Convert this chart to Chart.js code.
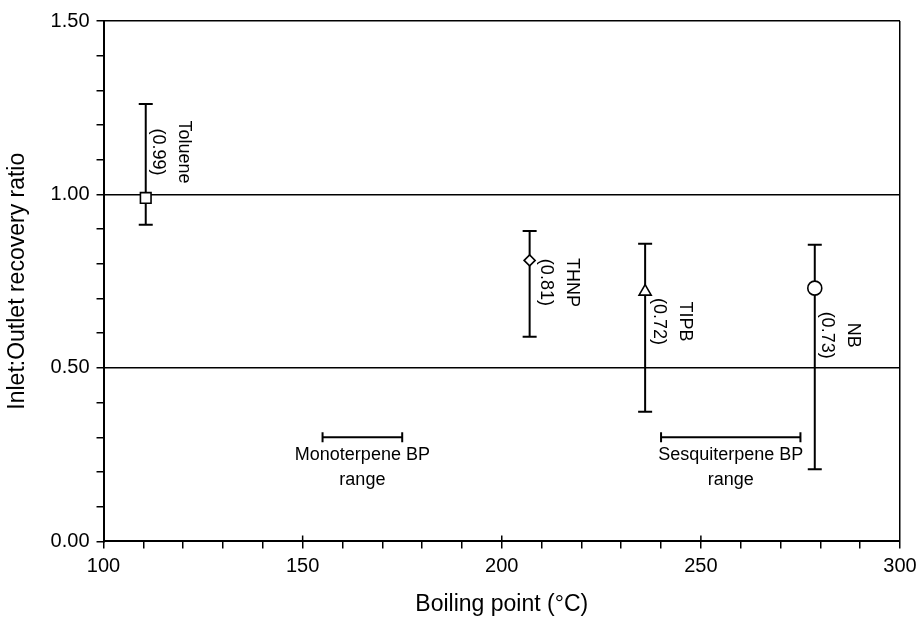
<!DOCTYPE html>
<html>
<head>
<meta charset="utf-8">
<script src="https://cdn.jsdelivr.net/npm/chart.js@4/dist/chart.umd.min.js"></script>
<style>
  body { margin: 0; background: #fff; }
  #wrap { width: 917px; height: 618px; }
</style>
</head>
<body>
<div id="wrap"><canvas id="chart"></canvas></div>
<script>
// compounds: boiling point (C), mean ratio, error bar low / high
const compounds = ["Toluene", "THNP", "TIPB", "NB"]
const boilingPoints = [110.6, 207, 236, 278.6]
const ratios = [0.99, 0.81, 0.72, 0.73]
const errLow = [0.913, 0.59, 0.374, 0.208]
const errHigh = [1.261, 0.895, 0.858, 0.855]
const markers = ["rect", "rectRot", "triangle", "circle"]

// boiling point ranges of the terpene classes
const rangeNames = [["Monoterpene BP", "range"], ["Sesquiterpene BP", "range"]]
const rangeStart = [155, 240]
const rangeEnd = [175, 275]
const rangeLevel = [0.3, 0.3]

// label offsets (px) from each marker
const labelOffsets = [[25, -46], [29, 22], [27, 30], [25, 47]]

const FONT = "'Liberation Sans', Arial, Helvetica, sans-serif"

const errorSets = compounds.map((name, i) => ({
  type: "line",
  label: name + " error",
  data: [
    { x: boilingPoints[i], y: errLow[i] },
    { x: boilingPoints[i], y: errHigh[i] },
  ],
  borderColor: "#000",
  borderWidth: 2,
  pointStyle: "line",
  pointRadius: 7,
  pointBorderWidth: 2,
  pointBorderColor: "#000",
  order: 2,
}))

const rangeSets = rangeNames.map((name, i) => ({
  type: "line",
  label: name[0],
  data: [
    { x: rangeStart[i], y: rangeLevel[i] },
    { x: rangeEnd[i], y: rangeLevel[i] },
  ],
  borderColor: "#000",
  borderWidth: 2,
  pointStyle: "line",
  pointRotation: 90,
  pointRadius: 5,
  pointBorderWidth: 2,
  pointBorderColor: "#000",
  order: 2,
}))

const markerSet = {
  type: "scatter",
  label: "ratio",
  data: compounds.map((c, i) => ({ x: boilingPoints[i], y: ratios[i] })),
  pointStyle: markers,
  pointRadius: [7.5, 5.5, 7, 7],
  pointBackgroundColor: "#fff",
  pointBorderColor: "#000",
  pointBorderWidth: 1.6,
  order: 0,
}

// rotated compound labels, range captions, inner half of the major x ticks
const labelPlugin = {
  id: "labels",
  afterDatasetsDraw(chart) {
    const ctx = chart.ctx
    const xs = chart.scales.x
    const ys = chart.scales.y
    ctx.save()
    ctx.strokeStyle = "#000"
    ctx.lineWidth = 1.5
    ctx.beginPath()
    ;[150, 200, 250].forEach((v) => {
      const px = xs.getPixelForValue(v)
      ctx.moveTo(px, ys.bottom)
      ctx.lineTo(px, ys.bottom - 6)
    })
    ctx.stroke()

    ctx.fillStyle = "#000"
    ctx.font = "18px " + FONT
    ctx.textAlign = "center"
    ctx.textBaseline = "middle"
    compounds.forEach((name, i) => {
      const px = xs.getPixelForValue(boilingPoints[i]) + labelOffsets[i][0]
      const py = ys.getPixelForValue(ratios[i]) + labelOffsets[i][1]
      ctx.save()
      ctx.translate(px, py)
      ctx.rotate(Math.PI / 2)
      ctx.fillText(name, 0, -13)
      ctx.fillText("(" + ratios[i].toFixed(2) + ")", 0, 13)
      ctx.restore()
    })
    rangeNames.forEach((lines, i) => {
      const px = xs.getPixelForValue((rangeStart[i] + rangeEnd[i]) / 2)
      const py = ys.getPixelForValue(rangeLevel[i])
      lines.forEach((t, j) => ctx.fillText(t, px, py + 18 + j * 25))
    })
    ctx.restore()
  },
}

const isMajor = (v) => Math.abs(v * 2 - Math.round(v * 2)) < 1e-6

new Chart(document.getElementById("chart"), {
  data: { datasets: [markerSet, ...errorSets, ...rangeSets] },
  options: {
    responsive: true,
    maintainAspectRatio: false,
    animation: false,
    layout: { padding: { top: 21, right: 0, left: 4, bottom: 0 } },
    plugins: {
      legend: { display: false },
      tooltip: { enabled: false },
    },
    scales: {
      x: {
        type: "linear",
        min: 100,
        max: 300,
        afterFit: (s) => {
          s.paddingRight = 17
        },
        ticks: {
          stepSize: 10,
          autoSkip: false,
          maxRotation: 0,
          padding: 6,
          color: "#000",
          font: { family: FONT, size: 20 },
          callback: (v) => (v % 50 === 0 ? v : ""),
        },
        grid: {
          color: (c) => (c.tick && c.tick.value === 300 ? "#000" : "transparent"),
          tickColor: "#000",
          tickLength: 7,
          lineWidth: 1.5,
        },
        border: { color: "#000", width: 2 },
        title: {
          display: true,
          text: "Boiling point (°C)",
          color: "#000",
          font: { family: FONT, size: 23 },
          padding: { top: 6, bottom: 0 },
        },
      },
      y: {
        min: 0,
        max: 1.5,
        ticks: {
          stepSize: 0.1,
          autoSkip: false,
          padding: 7,
          color: "#000",
          font: { family: FONT, size: 20 },
          callback: (v) => (isMajor(v) ? v.toFixed(2) : ""),
        },
        grid: {
          color: (c) => (c.tick && isMajor(c.tick.value) && c.tick.value > 0 ? "#000" : "transparent"),
          tickColor: "#000",
          tickLength: 7,
          lineWidth: 1.5,
        },
        border: { color: "#000", width: 2 },
        title: {
          display: true,
          text: "Inlet:Outlet recovery ratio",
          color: "#000",
          font: { family: FONT, size: 23 },
          padding: { top: 0, bottom: 12 },
        },
      },
    },
  },
  plugins: [labelPlugin],
})
</script>
</body>
</html>
